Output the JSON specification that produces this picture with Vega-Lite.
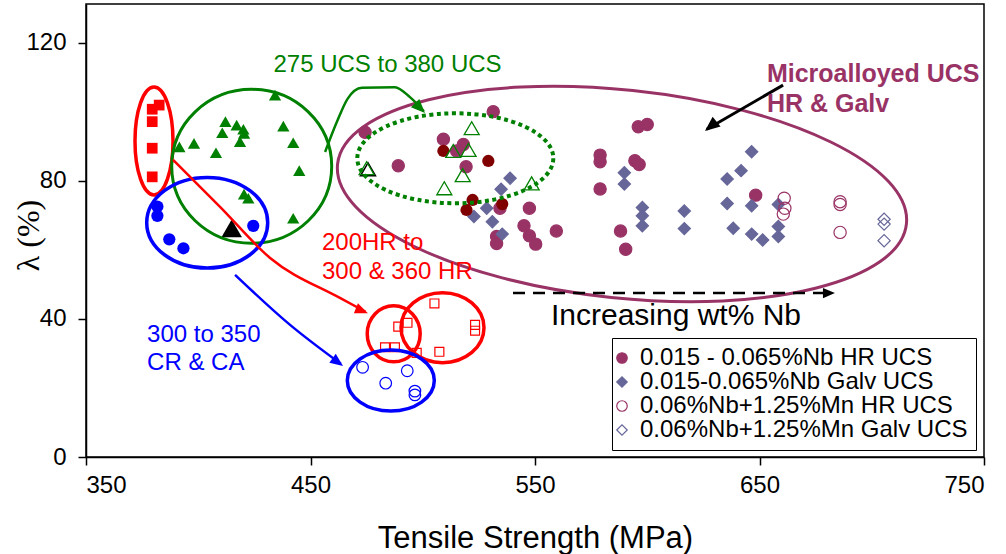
{
  "$schema": "https://vega.github.io/schema/vega-lite/v6.json",
  "width": 898,
  "height": 453,
  "autosize": "none",
  "padding": {"left": 86, "top": 4, "right": 22, "bottom": 97},
  "background": "white",
  "config": {
    "view": {"stroke": "black", "strokeWidth": 1.5},
    "axis": {"grid": false, "domainColor": "black", "domainWidth": 1.5, "tickColor": "black", "tickWidth": 1.5, "tickSize": 8, "labelFont": "Liberation Sans", "labelFontSize": 24, "labelColor": "black", "titleColor": "black", "titleFontWeight": "normal"},
    "legend": {"strokeColor": "black", "fillColor": "white", "padding": 8, "labelFont": "Liberation Sans", "labelFontSize": 24, "labelColor": "black", "labelLimit": 500, "symbolSize": 110, "rowPadding": 0, "labelOffset": 6, "symbolOffset": -10, "symbolStrokeWidth": 1.2}
  },
  "datasets": {
    "pts": [
      {"s": "RedSq", "x": 382.6, "y": 102.0}, {"s": "RedSq", "x": 379.5, "y": 100.8}, {"s": "RedSq", "x": 379.5, "y": 97.2}, {"s": "RedSq", "x": 379.5, "y": 89.5}, {"s": "RedSq", "x": 379.5, "y": 81.2},
      {"s": "GreenTri", "x": 434.2, "y": 104.9}, {"s": "GreenTri", "x": 412.1, "y": 97.2}, {"s": "GreenTri", "x": 417.1, "y": 96.2}, {"s": "GreenTri", "x": 420.1, "y": 95.0}, {"s": "GreenTri", "x": 410.7, "y": 94.0}, {"s": "GreenTri", "x": 437.9, "y": 95.9}, {"s": "GreenTri", "x": 418.6, "y": 91.4}, {"s": "GreenTri", "x": 420.4, "y": 93.8}, {"s": "GreenTri", "x": 442.3, "y": 91.1}, {"s": "GreenTri", "x": 398.1, "y": 90.9}, {"s": "GreenTri", "x": 391.6, "y": 89.9}, {"s": "GreenTri", "x": 407.9, "y": 88.2}, {"s": "GreenTri", "x": 445.0, "y": 83.0}, {"s": "GreenTri", "x": 420.4, "y": 76.2}, {"s": "GreenTri", "x": 422.3, "y": 75.0}, {"s": "GreenTri", "x": 442.3, "y": 69.2},
      {"s": "BlueCirc", "x": 381.8, "y": 72.6}, {"s": "BlueCirc", "x": 381.8, "y": 69.9}, {"s": "BlueCirc", "x": 387.1, "y": 63.1}, {"s": "BlueCirc", "x": 393.4, "y": 60.5}, {"s": "BlueCirc", "x": 424.5, "y": 67.0},
      {"s": "BlackTri", "x": 414.9, "y": 66.3},
      {"s": "0.015 - 0.065%Nb HR UCS", "x": 474.3, "y": 94.1}, {"s": "0.015 - 0.065%Nb HR UCS", "x": 531.4, "y": 100.1}, {"s": "0.015 - 0.065%Nb HR UCS", "x": 489.1, "y": 84.4}, {"s": "0.015 - 0.065%Nb HR UCS", "x": 509.2, "y": 92.1}, {"s": "0.015 - 0.065%Nb HR UCS", "x": 518.1, "y": 90.6}, {"s": "0.015 - 0.065%Nb HR UCS", "x": 515.1, "y": 88.7}, {"s": "0.015 - 0.065%Nb HR UCS", "x": 519.3, "y": 84.1}, {"s": "0.015 - 0.065%Nb HR UCS", "x": 534.4, "y": 72.1}, {"s": "0.015 - 0.065%Nb HR UCS", "x": 547.5, "y": 72.1}, {"s": "0.015 - 0.065%Nb HR UCS", "x": 545.1, "y": 67.0}, {"s": "0.015 - 0.065%Nb HR UCS", "x": 547.5, "y": 64.1}, {"s": "0.015 - 0.065%Nb HR UCS", "x": 550.3, "y": 61.7}, {"s": "0.015 - 0.065%Nb HR UCS", "x": 559.5, "y": 65.5}, {"s": "0.015 - 0.065%Nb HR UCS", "x": 532.9, "y": 63.9}, {"s": "0.015 - 0.065%Nb HR UCS", "x": 532.9, "y": 61.9}, {"s": "0.015 - 0.065%Nb HR UCS", "x": 596.0, "y": 95.7}, {"s": "0.015 - 0.065%Nb HR UCS", "x": 600.0, "y": 96.4}, {"s": "0.015 - 0.065%Nb HR UCS", "x": 579.0, "y": 87.5}, {"s": "0.015 - 0.065%Nb HR UCS", "x": 579.0, "y": 85.6}, {"s": "0.015 - 0.065%Nb HR UCS", "x": 594.5, "y": 85.9}, {"s": "0.015 - 0.065%Nb HR UCS", "x": 596.4, "y": 84.8}, {"s": "0.015 - 0.065%Nb HR UCS", "x": 579.0, "y": 77.7}, {"s": "0.015 - 0.065%Nb HR UCS", "x": 588.1, "y": 65.5}, {"s": "0.015 - 0.065%Nb HR UCS", "x": 590.4, "y": 60.2}, {"s": "0.015 - 0.065%Nb HR UCS", "x": 648.3, "y": 75.9},
      {"s": "DarkHR", "x": 509.2, "y": 88.7}, {"s": "DarkHR", "x": 529.2, "y": 85.8}, {"s": "DarkHR", "x": 522.2, "y": 74.5}, {"s": "DarkHR", "x": 519.5, "y": 71.6}, {"s": "DarkHR", "x": 535.4, "y": 73.3},
      {"s": "0.015-0.065%Nb Galv UCS", "x": 538.9, "y": 80.8}, {"s": "0.015-0.065%Nb Galv UCS", "x": 534.9, "y": 77.6}, {"s": "0.015-0.065%Nb Galv UCS", "x": 528.5, "y": 72.1}, {"s": "0.015-0.065%Nb Galv UCS", "x": 522.8, "y": 69.7}, {"s": "0.015-0.065%Nb Galv UCS", "x": 531.0, "y": 68.2}, {"s": "0.015-0.065%Nb Galv UCS", "x": 535.4, "y": 64.6}, {"s": "0.015-0.065%Nb Galv UCS", "x": 589.8, "y": 82.4}, {"s": "0.015-0.065%Nb Galv UCS", "x": 589.8, "y": 79.1}, {"s": "0.015-0.065%Nb Galv UCS", "x": 597.8, "y": 72.3}, {"s": "0.015-0.065%Nb Galv UCS", "x": 597.8, "y": 69.9}, {"s": "0.015-0.065%Nb Galv UCS", "x": 597.8, "y": 67.0}, {"s": "0.015-0.065%Nb Galv UCS", "x": 616.5, "y": 71.3}, {"s": "0.015-0.065%Nb Galv UCS", "x": 616.5, "y": 66.2}, {"s": "0.015-0.065%Nb Galv UCS", "x": 646.5, "y": 88.5}, {"s": "0.015-0.065%Nb Galv UCS", "x": 641.8, "y": 83.0}, {"s": "0.015-0.065%Nb Galv UCS", "x": 635.6, "y": 80.6}, {"s": "0.015-0.065%Nb Galv UCS", "x": 635.6, "y": 73.5}, {"s": "0.015-0.065%Nb Galv UCS", "x": 646.5, "y": 72.8}, {"s": "0.015-0.065%Nb Galv UCS", "x": 638.3, "y": 66.3}, {"s": "0.015-0.065%Nb Galv UCS", "x": 646.5, "y": 64.6}, {"s": "0.015-0.065%Nb Galv UCS", "x": 651.4, "y": 62.9}, {"s": "0.015-0.065%Nb Galv UCS", "x": 658.4, "y": 73.2}, {"s": "0.015-0.065%Nb Galv UCS", "x": 658.4, "y": 66.8}, {"s": "0.015-0.065%Nb Galv UCS", "x": 658.4, "y": 63.9},
      {"s": "0.06%Nb+1.25%Mn HR UCS", "x": 661.0, "y": 75.0}, {"s": "0.06%Nb+1.25%Mn HR UCS", "x": 661.3, "y": 72.1}, {"s": "0.06%Nb+1.25%Mn HR UCS", "x": 660.6, "y": 70.4}, {"s": "0.06%Nb+1.25%Mn HR UCS", "x": 685.9, "y": 74.0}, {"s": "0.06%Nb+1.25%Mn HR UCS", "x": 685.9, "y": 73.2}, {"s": "0.06%Nb+1.25%Mn HR UCS", "x": 685.9, "y": 65.1},
      {"s": "0.06%Nb+1.25%Mn Galv UCS", "x": 705.5, "y": 68.9}, {"s": "0.06%Nb+1.25%Mn Galv UCS", "x": 705.5, "y": 67.5}, {"s": "0.06%Nb+1.25%Mn Galv UCS", "x": 705.5, "y": 62.7},
      {"s": "RedOpenSq", "x": 505.2, "y": 44.5}, {"s": "RedOpenSq", "x": 489.1, "y": 37.8}, {"s": "RedOpenSq", "x": 493.2, "y": 38.9}, {"s": "RedOpenSq", "x": 523.3, "y": 38.3}, {"s": "RedOpenSq", "x": 523.3, "y": 36.6}, {"s": "RedOpenSq", "x": 483.2, "y": 31.8}, {"s": "RedOpenSq", "x": 487.6, "y": 31.8}, {"s": "RedOpenSq", "x": 497.3, "y": 30.2}, {"s": "RedOpenSq", "x": 507.4, "y": 30.5},
      {"s": "BlueOpenCirc", "x": 473.2, "y": 26.0}, {"s": "BlueOpenCirc", "x": 493.1, "y": 25.0}, {"s": "BlueOpenCirc", "x": 483.5, "y": 21.4}, {"s": "BlueOpenCirc", "x": 496.5, "y": 19.1}, {"s": "BlueOpenCirc", "x": 496.5, "y": 18.0},
      {"s": "BlackOpenTri", "x": 475.6, "y": 83.4},
      {"s": "GreenOpenTri", "x": 475.0, "y": 83.7}, {"s": "GreenOpenTri", "x": 521.8, "y": 95.3}, {"s": "GreenOpenTri", "x": 513.6, "y": 88.7}, {"s": "GreenOpenTri", "x": 520.4, "y": 89.0}, {"s": "GreenOpenTri", "x": 517.8, "y": 81.7}, {"s": "GreenOpenTri", "x": 509.6, "y": 77.9}, {"s": "GreenOpenTri", "x": 548.5, "y": 79.3}
    ],
    "ell": [
      {"id": "redL", "x": 380.29, "y": 91.59},
      {"id": "greenBig", "x": 423.81, "y": 84.26},
      {"id": "blueL", "x": 403.99, "y": 67.91},
      {"id": "dotted", "x": 514.5, "y": 86.58},
      {"id": "maroon", "x": 588.75, "y": 76.23},
      {"id": "redS", "x": 487.06, "y": 35.71},
      {"id": "redR", "x": 508.8, "y": 37.48},
      {"id": "blueS", "x": 485.77, "y": 22.17}
    ],
    "arr": [
      {"id": "green", "o": 1, "x": 456.5, "y": 88.4}, {"id": "green", "o": 2, "x": 462.0, "y": 97.5}, {"id": "green", "o": 3, "x": 466.5, "y": 103.8}, {"id": "green", "o": 4, "x": 472.9, "y": 107.0}, {"id": "green", "o": 5, "x": 487.6, "y": 107.2}, {"id": "green", "o": 6, "x": 494.3, "y": 104.3}, {"id": "green", "o": 7, "x": 500.5, "y": 100.2},
      {"id": "red", "o": 1, "x": 388.8, "y": 86.1}, {"id": "red", "o": 2, "x": 409.7, "y": 72.5}, {"id": "red", "o": 3, "x": 432.0, "y": 57.7}, {"id": "red", "o": 4, "x": 463.1, "y": 46.1}, {"id": "red", "o": 5, "x": 474.5, "y": 42.1},
      {"id": "blue", "o": 1, "x": 416.4, "y": 52.8}, {"id": "blue", "o": 2, "x": 440.9, "y": 38.3}, {"id": "blue", "o": 3, "x": 463.5, "y": 27.0},
      {"id": "black", "o": 1, "x": 660.5, "y": 107.8}, {"id": "black", "o": 2, "x": 626.5, "y": 95.0},
      {"id": "dash", "o": 1, "x": 540.2, "y": 47.5}, {"id": "dash", "o": 2, "x": 682.0, "y": 47.5}
    ],
    "heads": [
      {"id": "green", "x": 501.0, "y": 99.7},
      {"id": "red", "x": 475.6, "y": 41.7},
      {"id": "blue", "x": 464.5, "y": 26.4},
      {"id": "black", "x": 625.7, "y": 94.5},
      {"id": "dash", "x": 683.6, "y": 47.5}
    ],
    "txt": [
      {"id": "green", "x": 484.3, "y": 113.5, "t": "275 UCS to 380 UCS"},
      {"id": "red", "x": 455.1, "y": 62.0, "t": "200HR to"},
      {"id": "red", "x": 455.1, "y": 53.6, "t": "300 & 360 HR"},
      {"id": "blue", "x": 377.2, "y": 35.4, "t": "300 to 350"},
      {"id": "blue", "x": 377.2, "y": 27.2, "t": "CR & CA"},
      {"id": "maroon", "x": 653.3, "y": 111.0, "t": "Microalloyed UCS"},
      {"id": "maroon", "x": 653.3, "y": 102.2, "t": "HR & Galv"},
      {"id": "black", "x": 612.8, "y": 40.9, "t": "Increasing wt% Nb"}
    ]
  },
  "layer": [
    {
      "data": {"name": "pts"},
      "transform": [{"filter": {"field": "s", "oneOf": ["0.015 - 0.065%Nb HR UCS", "0.015-0.065%Nb Galv UCS", "0.06%Nb+1.25%Mn HR UCS", "0.06%Nb+1.25%Mn Galv UCS"]}}],
      "mark": {"type": "point", "filled": true, "strokeWidth": 1.2, "opacity": 1, "size": 150},
      "encoding": {
        "x": {"field": "x", "type": "quantitative", "scale": {"domain": [350, 750], "nice": false, "zero": false}, "axis": {"values": [350, 450, 550, 650, 750], "labelPadding": 8, "title": "Tensile Strength (MPa)", "titleFont": "Liberation Sans", "titleFontSize": 31, "titleX": 449, "titleY": 90, "titleBaseline": "alphabetic", "titleAlign": "center"}},
        "y": {"field": "y", "type": "quantitative", "scale": {"domain": [0, 131.3], "nice": false, "zero": false}, "axis": {"values": [0, 40, 80, 120], "labelPadding": 12, "title": "λ (%)", "titleFont": "Liberation Serif", "titleFontSize": 32, "titleX": -58, "titleY": 231, "titleBaseline": "middle", "titleAlign": "center", "titleAngle": -90}},
        "fill": {"field": "s", "type": "nominal",
          "scale": {"domain": ["0.015 - 0.065%Nb HR UCS", "0.015-0.065%Nb Galv UCS", "0.06%Nb+1.25%Mn HR UCS", "0.06%Nb+1.25%Mn Galv UCS"], "range": ["#993366", "#666699", "transparent", "transparent"]},
          "legend": {"title": null, "orient": "none", "legendX": 526, "legendY": 334}},
        "stroke": {"field": "s", "type": "nominal",
          "scale": {"domain": ["0.015 - 0.065%Nb HR UCS", "0.015-0.065%Nb Galv UCS", "0.06%Nb+1.25%Mn HR UCS", "0.06%Nb+1.25%Mn Galv UCS"], "range": ["#993366", "#666699", "#993366", "#666699"]},
          "legend": {"title": null, "orient": "none", "legendX": 526, "legendY": 334}},
        "shape": {"field": "s", "type": "nominal",
          "scale": {"domain": ["0.015 - 0.065%Nb HR UCS", "0.015-0.065%Nb Galv UCS", "0.06%Nb+1.25%Mn HR UCS", "0.06%Nb+1.25%Mn Galv UCS"], "range": ["circle", "diamond", "circle", "diamond"]},
          "legend": {"title": null, "orient": "none", "legendX": 526, "legendY": 334}}
      }
    },
    {"data": {"name": "pts"}, "transform": [{"filter": "datum.s == 'DarkHR'"}], "mark": {"type": "point", "shape": "circle", "filled": true, "color": "#800000", "opacity": 1, "size": 150}, "encoding": {"x": {"field": "x", "type": "quantitative"}, "y": {"field": "y", "type": "quantitative"}}},
    {"data": {"name": "pts"}, "transform": [{"filter": "datum.s == 'RedSq'"}], "mark": {"type": "point", "shape": "square", "filled": true, "color": "#FF0000", "opacity": 1, "size": 115}, "encoding": {"x": {"field": "x", "type": "quantitative"}, "y": {"field": "y", "type": "quantitative"}}},
    {"data": {"name": "pts"}, "transform": [{"filter": "datum.s == 'GreenTri'"}], "mark": {"type": "point", "shape": "triangle-up", "filled": true, "color": "#008000", "opacity": 1, "size": 150}, "encoding": {"x": {"field": "x", "type": "quantitative"}, "y": {"field": "y", "type": "quantitative"}}},
    {"data": {"name": "pts"}, "transform": [{"filter": "datum.s == 'BlueCirc'"}], "mark": {"type": "point", "shape": "circle", "filled": true, "color": "#0000FF", "opacity": 1, "size": 150}, "encoding": {"x": {"field": "x", "type": "quantitative"}, "y": {"field": "y", "type": "quantitative"}}},
    {"data": {"name": "pts"}, "transform": [{"filter": "datum.s == 'BlackTri'"}], "mark": {"type": "point", "shape": "triangle-up", "filled": true, "color": "#000000", "opacity": 1, "size": 420}, "encoding": {"x": {"field": "x", "type": "quantitative"}, "y": {"field": "y", "type": "quantitative"}}},
    {"data": {"name": "pts"}, "transform": [{"filter": "datum.s == 'RedOpenSq'"}], "mark": {"type": "point", "shape": "square", "filled": false, "color": "#FF0000", "strokeWidth": 1.2, "opacity": 1, "size": 80}, "encoding": {"x": {"field": "x", "type": "quantitative"}, "y": {"field": "y", "type": "quantitative"}}},
    {"data": {"name": "pts"}, "transform": [{"filter": "datum.s == 'BlueOpenCirc'"}], "mark": {"type": "point", "shape": "circle", "filled": false, "color": "#0000FF", "strokeWidth": 1.2, "opacity": 1, "size": 135}, "encoding": {"x": {"field": "x", "type": "quantitative"}, "y": {"field": "y", "type": "quantitative"}}},
    {"data": {"name": "pts"}, "transform": [{"filter": "datum.s == 'BlackOpenTri'"}], "mark": {"type": "point", "shape": "triangle-up", "filled": false, "color": "#000000", "strokeWidth": 1.5, "opacity": 1, "size": 225}, "encoding": {"x": {"field": "x", "type": "quantitative"}, "y": {"field": "y", "type": "quantitative"}}},
    {"data": {"name": "pts"}, "transform": [{"filter": "datum.s == 'GreenOpenTri'"}], "mark": {"type": "point", "shape": "triangle-up", "filled": false, "color": "#008000", "strokeWidth": 1.3, "opacity": 1, "size": 225}, "encoding": {"x": {"field": "x", "type": "quantitative"}, "y": {"field": "y", "type": "quantitative"}}},
    {"data": {"name": "ell"}, "transform": [{"filter": "datum.id == 'redL'"}], "mark": {"type": "point", "filled": false, "color": "#FF0000", "strokeWidth": 3.5, "opacity": 1, "size": 11664, "shape": "M 0.352 0 C 0.352 0.552 0.194 1 0 1 C -0.194 1 -0.352 0.552 -0.352 0 C -0.352 -0.552 -0.194 -1 0 -1 C 0.194 -1 0.352 -0.552 0.352 0 Z"}, "encoding": {"x": {"field": "x", "type": "quantitative"}, "y": {"field": "y", "type": "quantitative"}}},
    {"data": {"name": "ell"}, "transform": [{"filter": "datum.id == 'greenBig'"}], "mark": {"type": "point", "filled": false, "color": "#008000", "strokeWidth": 3, "opacity": 1, "size": 25600, "shape": "M 1 0 C 1 0.532 0.552 0.9625 0 0.9625 C -0.552 0.9625 -1 0.532 -1 0 C -1 -0.532 -0.552 -0.9625 0 -0.9625 C 0.552 -0.9625 1 -0.532 1 0 Z"}, "encoding": {"x": {"field": "x", "type": "quantitative"}, "y": {"field": "y", "type": "quantitative"}}},
    {"data": {"name": "ell"}, "transform": [{"filter": "datum.id == 'blueL'"}], "mark": {"type": "point", "filled": false, "color": "#0000FF", "strokeWidth": 3.5, "opacity": 1, "size": 14641, "shape": "M 1 0 C 1 0.414 0.552 0.749 0 0.749 C -0.552 0.749 -1 0.414 -1 0 C -1 -0.414 -0.552 -0.749 0 -0.749 C 0.552 -0.749 1 -0.414 1 0 Z"}, "encoding": {"x": {"field": "x", "type": "quantitative"}, "y": {"field": "y", "type": "quantitative"}}},
    {"data": {"name": "ell"}, "transform": [{"filter": "datum.id == 'dotted'"}], "mark": {"type": "point", "filled": false, "color": "#008000", "strokeWidth": 4, "strokeDash": [4, 3.5], "opacity": 1, "size": 38416, "shape": "M 1 0 C 1 0.2535 0.552 0.459 0 0.459 C -0.552 0.459 -1 0.2535 -1 0 C -1 -0.2535 -0.552 -0.459 0 -0.459 C 0.552 -0.459 1 -0.2535 1 0 Z"}, "encoding": {"x": {"field": "x", "type": "quantitative"}, "y": {"field": "y", "type": "quantitative"}}},
    {"data": {"name": "ell"}, "transform": [{"filter": "datum.id == 'maroon'"}], "mark": {"type": "point", "filled": false, "color": "#993366", "strokeWidth": 3, "opacity": 1, "size": 327184, "angle": 6, "shape": "M 1 0 C 1 0.2008 0.552 0.3636 0 0.3636 C -0.552 0.3636 -1 0.2008 -1 0 C -1 -0.2008 -0.552 -0.3636 0 -0.3636 C 0.552 -0.3636 1 -0.2008 1 0 Z"}, "encoding": {"x": {"field": "x", "type": "quantitative"}, "y": {"field": "y", "type": "quantitative"}}},
    {"data": {"name": "ell"}, "transform": [{"filter": "datum.id == 'redS'"}], "mark": {"type": "point", "filled": false, "color": "#FF0000", "strokeWidth": 3.5, "opacity": 1, "size": 3136, "shape": "M 0.946 0 C 0.946 0.552 0.5225 1 0 1 C -0.5225 1 -0.946 0.552 -0.946 0 C -0.946 -0.552 -0.5225 -1 0 -1 C 0.5225 -1 0.946 -0.552 0.946 0 Z"}, "encoding": {"x": {"field": "x", "type": "quantitative"}, "y": {"field": "y", "type": "quantitative"}}},
    {"data": {"name": "ell"}, "transform": [{"filter": "datum.id == 'redR'"}], "mark": {"type": "point", "filled": false, "color": "#FF0000", "strokeWidth": 3.5, "opacity": 1, "size": 6889, "shape": "M 1 0 C 1 0.4656 0.552 0.843 0 0.843 C -0.552 0.843 -1 0.4656 -1 0 C -1 -0.4656 -0.552 -0.843 0 -0.843 C 0.552 -0.843 1 -0.4656 1 0 Z"}, "encoding": {"x": {"field": "x", "type": "quantitative"}, "y": {"field": "y", "type": "quantitative"}}},
    {"data": {"name": "ell"}, "transform": [{"filter": "datum.id == 'blueS'"}], "mark": {"type": "point", "filled": false, "color": "#0000FF", "strokeWidth": 3.5, "opacity": 1, "size": 7569, "shape": "M 1 0 C 1 0.387 0.552 0.701 0 0.701 C -0.552 0.701 -1 0.387 -1 0 C -1 -0.387 -0.552 -0.701 0 -0.701 C 0.552 -0.701 1 -0.387 1 0 Z"}, "encoding": {"x": {"field": "x", "type": "quantitative"}, "y": {"field": "y", "type": "quantitative"}}},
    {"data": {"name": "arr"}, "transform": [{"filter": "datum.id == 'green'"}], "mark": {"type": "line", "color": "#008000", "strokeWidth": 2.5, "interpolate": "monotone"}, "encoding": {"x": {"field": "x", "type": "quantitative"}, "y": {"field": "y", "type": "quantitative"}, "order": {"field": "o", "type": "quantitative"}}},
    {"data": {"name": "arr"}, "transform": [{"filter": "datum.id == 'red'"}], "mark": {"type": "line", "color": "#FF0000", "strokeWidth": 2.5, "interpolate": "monotone"}, "encoding": {"x": {"field": "x", "type": "quantitative"}, "y": {"field": "y", "type": "quantitative"}, "order": {"field": "o", "type": "quantitative"}}},
    {"data": {"name": "arr"}, "transform": [{"filter": "datum.id == 'blue'"}], "mark": {"type": "line", "color": "#0000FF", "strokeWidth": 2.5, "interpolate": "monotone"}, "encoding": {"x": {"field": "x", "type": "quantitative"}, "y": {"field": "y", "type": "quantitative"}, "order": {"field": "o", "type": "quantitative"}}},
    {"data": {"name": "arr"}, "transform": [{"filter": "datum.id == 'black'"}], "mark": {"type": "line", "color": "#000000", "strokeWidth": 3}, "encoding": {"x": {"field": "x", "type": "quantitative"}, "y": {"field": "y", "type": "quantitative"}, "order": {"field": "o", "type": "quantitative"}}},
    {"data": {"name": "arr"}, "transform": [{"filter": "datum.id == 'dash'"}], "mark": {"type": "line", "color": "#000000", "strokeWidth": 2.5, "strokeDash": [12, 8]}, "encoding": {"x": {"field": "x", "type": "quantitative"}, "y": {"field": "y", "type": "quantitative"}, "order": {"field": "o", "type": "quantitative"}}},
    {"data": {"name": "heads"}, "transform": [{"filter": "datum.id == 'green'"}], "mark": {"type": "point", "filled": true, "color": "#008000", "opacity": 1, "size": 784, "angle": 135, "shape": "M 0 0 L 0.42 1 L -0.42 1 Z"}, "encoding": {"x": {"field": "x", "type": "quantitative"}, "y": {"field": "y", "type": "quantitative"}}},
    {"data": {"name": "heads"}, "transform": [{"filter": "datum.id == 'red'"}], "mark": {"type": "point", "filled": true, "color": "#FF0000", "opacity": 1, "size": 676, "angle": 112, "shape": "M 0 0 L 0.42 1 L -0.42 1 Z"}, "encoding": {"x": {"field": "x", "type": "quantitative"}, "y": {"field": "y", "type": "quantitative"}}},
    {"data": {"name": "heads"}, "transform": [{"filter": "datum.id == 'blue'"}], "mark": {"type": "point", "filled": true, "color": "#0000FF", "opacity": 1, "size": 676, "angle": 126, "shape": "M 0 0 L 0.42 1 L -0.42 1 Z"}, "encoding": {"x": {"field": "x", "type": "quantitative"}, "y": {"field": "y", "type": "quantitative"}}},
    {"data": {"name": "heads"}, "transform": [{"filter": "datum.id == 'black'"}], "mark": {"type": "point", "filled": true, "color": "#000000", "opacity": 1, "size": 900, "angle": 231, "shape": "M 0 0 L 0.42 1 L -0.42 1 Z"}, "encoding": {"x": {"field": "x", "type": "quantitative"}, "y": {"field": "y", "type": "quantitative"}}},
    {"data": {"name": "heads"}, "transform": [{"filter": "datum.id == 'dash'"}], "mark": {"type": "point", "filled": true, "color": "#000000", "opacity": 1, "size": 576, "angle": 90, "shape": "M 0 0 L 0.42 1 L -0.42 1 Z"}, "encoding": {"x": {"field": "x", "type": "quantitative"}, "y": {"field": "y", "type": "quantitative"}}},
    {"data": {"name": "txt"}, "transform": [{"filter": "datum.id == 'green'"}], "mark": {"type": "text", "color": "#008000", "font": "Liberation Sans", "fontSize": 24, "align": "center", "baseline": "middle"}, "encoding": {"x": {"field": "x", "type": "quantitative"}, "y": {"field": "y", "type": "quantitative"}, "text": {"field": "t"}}},
    {"data": {"name": "txt"}, "transform": [{"filter": "datum.id == 'red'"}], "mark": {"type": "text", "color": "#FF0000", "font": "Liberation Sans", "fontSize": 24, "align": "left", "baseline": "middle"}, "encoding": {"x": {"field": "x", "type": "quantitative"}, "y": {"field": "y", "type": "quantitative"}, "text": {"field": "t"}}},
    {"data": {"name": "txt"}, "transform": [{"filter": "datum.id == 'blue'"}], "mark": {"type": "text", "color": "#0000FF", "font": "Liberation Sans", "fontSize": 24, "align": "left", "baseline": "middle"}, "encoding": {"x": {"field": "x", "type": "quantitative"}, "y": {"field": "y", "type": "quantitative"}, "text": {"field": "t"}}},
    {"data": {"name": "txt"}, "transform": [{"filter": "datum.id == 'maroon'"}], "mark": {"type": "text", "color": "#993366", "font": "Liberation Sans", "fontSize": 25, "fontWeight": "bold", "align": "left", "baseline": "middle"}, "encoding": {"x": {"field": "x", "type": "quantitative"}, "y": {"field": "y", "type": "quantitative"}, "text": {"field": "t"}}},
    {"data": {"name": "txt"}, "transform": [{"filter": "datum.id == 'black'"}], "mark": {"type": "text", "color": "#000000", "font": "Liberation Sans", "fontSize": 30, "align": "center", "baseline": "middle"}, "encoding": {"x": {"field": "x", "type": "quantitative"}, "y": {"field": "y", "type": "quantitative"}, "text": {"field": "t"}}}
  ]
}
